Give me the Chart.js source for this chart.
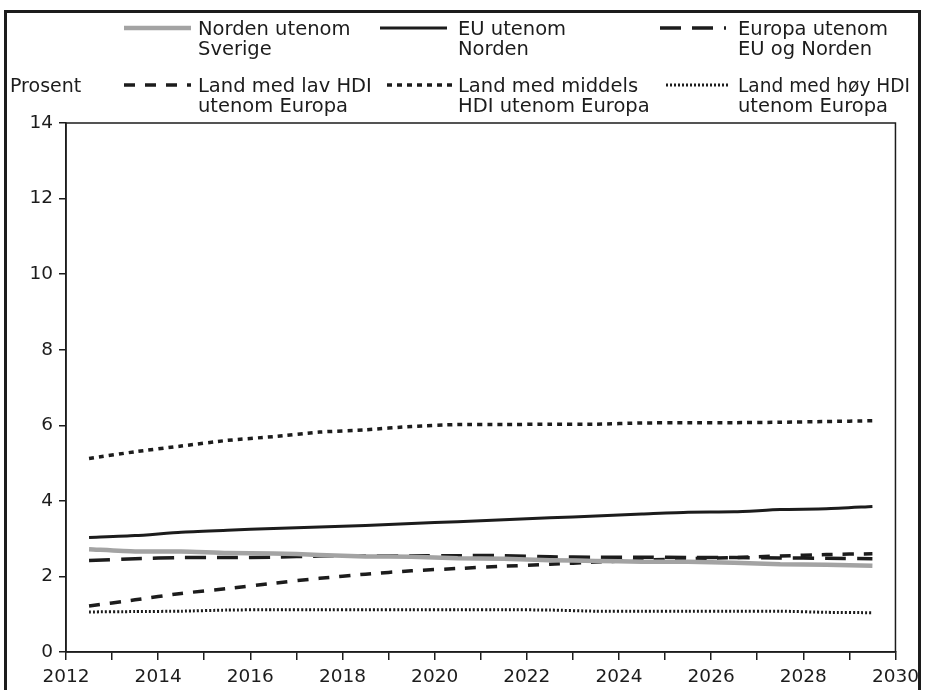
<!DOCTYPE html>
<html>
<head>
<meta charset="utf-8">
<script src="https://cdn.jsdelivr.net/npm/chart.js@4"></script>
<style>
  html, body { margin: 0; padding: 0; background: #fff; }
  #wrap { width: 925px; height: 690px; }
</style>
</head>
<body>
<div id="wrap"><canvas id="chart" width="925" height="690"></canvas></div>
<script>
const years = [2012.5, 2013.5, 2014.5, 2015.5, 2016.5, 2017.5, 2018.5, 2019.5, 2020.5,
  2021.5, 2022.5, 2023.5, 2024.5, 2025.5, 2026.5, 2027.5, 2028.5, 2029.5];

const nordenUtenomSverige = [2.72, 2.66, 2.66, 2.62, 2.61, 2.57, 2.53, 2.52, 2.48,
  2.47, 2.43, 2.41, 2.39, 2.39, 2.36, 2.32, 2.31, 2.28];
const euUtenomNorden = [3.03, 3.08, 3.17, 3.22, 3.27, 3.31, 3.35, 3.40, 3.45,
  3.50, 3.55, 3.60, 3.65, 3.70, 3.71, 3.77, 3.79, 3.85];
const europaUtenomEu = [2.42, 2.47, 2.50, 2.50, 2.51, 2.54, 2.55, 2.55, 2.55,
  2.55, 2.52, 2.51, 2.51, 2.50, 2.50, 2.49, 2.48, 2.47];
const lavHdi = [1.22, 1.38, 1.55, 1.68, 1.82, 1.95, 2.06, 2.15, 2.21,
  2.27, 2.32, 2.38, 2.43, 2.47, 2.50, 2.54, 2.58, 2.60];
const middelsHdi = [5.12, 5.30, 5.45, 5.60, 5.70, 5.82, 5.88, 5.97, 6.02,
  6.02, 6.03, 6.03, 6.06, 6.07, 6.07, 6.08, 6.10, 6.12];
const hoyHdi = [1.06, 1.07, 1.08, 1.11, 1.12, 1.12, 1.12, 1.12, 1.12,
  1.12, 1.11, 1.08, 1.08, 1.08, 1.08, 1.08, 1.05, 1.04];

const yTicks = [0, 2, 4, 6, 8, 10, 12, 14];
const xLabelYears = [2012, 2014, 2016, 2018, 2020, 2022, 2024, 2026, 2028, 2030];

const FONT = "'DejaVu Sans', sans-serif";
const BLACK = "#1c1c1c";
const GREY = "#a3a3a3";

function pts(values) {
  return values.map((v, i) => ({ x: years[i], y: v }));
}

const series = [
  { label: ["Norden utenom", "Sverige"], data: nordenUtenomSverige, color: GREY, width: 4.5, dash: [] },
  { label: ["EU utenom", "Norden"], data: euUtenomNorden, color: BLACK, width: 3, dash: [] },
  { label: ["Europa utenom", "EU og Norden"], data: europaUtenomEu, color: BLACK, width: 3.5, dash: [21, 11] },
  { label: ["Land med lav HDI", "utenom Europa"], data: lavHdi, color: BLACK, width: 3.5, dash: [11, 10] },
  { label: ["Land med middels", "HDI utenom Europa"], data: middelsHdi, color: BLACK, width: 3.5, dash: [5, 5] },
  { label: ["Land med høy HDI", "utenom Europa"], data: hoyHdi, color: BLACK, width: 3, dash: [2, 2] },
];

// legend slots: sample start/end, text x, first baseline, widest text
const legendPos = [
  { x0: 124, x1: 191, tx: 198, y: 35, mw: 200 },
  { x0: 380, x1: 447, tx: 458, y: 35, mw: 200 },
  { x0: 660, x1: 726, tx: 738, y: 35, mw: 176 },
  { x0: 124, x1: 191, tx: 198, y: 92, mw: 200 },
  { x0: 387, x1: 455, tx: 458, y: 92, mw: 200 },
  { x0: 666, x1: 728, tx: 738, y: 92, mw: 172 },
];

const framePlugin = {
  id: "frame",
  afterDraw(chart) {
    const ctx = chart.ctx;
    const a = chart.chartArea;
    ctx.save();
    // outer frame
    ctx.strokeStyle = BLACK;
    ctx.lineWidth = 3;
    ctx.strokeRect(5.5, 11.5, 914, 700);
    // plot box
    ctx.lineWidth = 1.5;
    ctx.strokeRect(a.left, a.top, a.right - a.left, a.bottom - a.top);

    ctx.fillStyle = BLACK;
    ctx.textBaseline = "alphabetic";
    ctx.textAlign = "left";
    ctx.font = "19px " + FONT;
    ctx.fillText("Prosent", 10, 92);

    ctx.font = "19.5px " + FONT;
    series.forEach((s, i) => {
      const p = legendPos[i];
      const sy = p.y - 7;
      ctx.strokeStyle = s.color;
      ctx.lineWidth = s.width;
      ctx.setLineDash(s.dash);
      ctx.beginPath();
      ctx.moveTo(p.x0, sy);
      ctx.lineTo(p.x1, sy);
      ctx.stroke();
      ctx.setLineDash([]);
      ctx.fillText(s.label[0], p.tx, p.y, p.mw);
      ctx.fillText(s.label[1], p.tx, p.y + 20, p.mw);
    });
    ctx.restore();
  }
};

const ctx = document.getElementById("chart");
const chart = new Chart(ctx, {
  type: "line",
  data: {
    datasets: series.map(s => ({
      label: s.label.join(" "),
      data: pts(s.data),
      borderColor: s.color,
      borderWidth: s.width,
      borderDash: s.dash,
      pointRadius: 0,
      tension: 0.2,
      fill: false,
    })),
  },
  options: {
    responsive: false,
    animation: false,
    layout: { padding: { top: 123, right: 29, left: 0, bottom: 0 } },
    plugins: { legend: { display: false }, tooltip: { enabled: false } },
    scales: {
      x: {
        type: "linear",
        min: 2012,
        max: 2030,
        afterFit(scale) { scale.height = 38; },
        afterBuildTicks(scale) {
          const t = [];
          for (let y = 2012; y <= 2030; y++) t.push({ value: y });
          scale.ticks = t;
        },
        grid: { drawOnChartArea: false, drawTicks: true, tickLength: 8, color: BLACK, lineWidth: 1.5 },
        border: { display: true, color: BLACK, width: 1.5 },
        ticks: {
          color: BLACK,
          font: { family: FONT, size: 18.5 },
          padding: 6,
          maxRotation: 0,
          autoSkip: false,
          callback: v => (xLabelYears.includes(v) ? String(v) : ""),
        },
      },
      y: {
        min: 0,
        max: 14,
        afterFit(scale) { scale.width = 66; },
        afterBuildTicks(scale) { scale.ticks = yTicks.map(v => ({ value: v })); },
        grid: { drawOnChartArea: false, drawTicks: true, tickLength: 7, color: BLACK, lineWidth: 1.5 },
        border: { display: true, color: BLACK, width: 1.5 },
        ticks: {
          color: BLACK,
          font: { family: FONT, size: 18.5 },
          padding: 6,
        },
      },
    },
  },
  plugins: [framePlugin],
});
</script>
</body>
</html>
